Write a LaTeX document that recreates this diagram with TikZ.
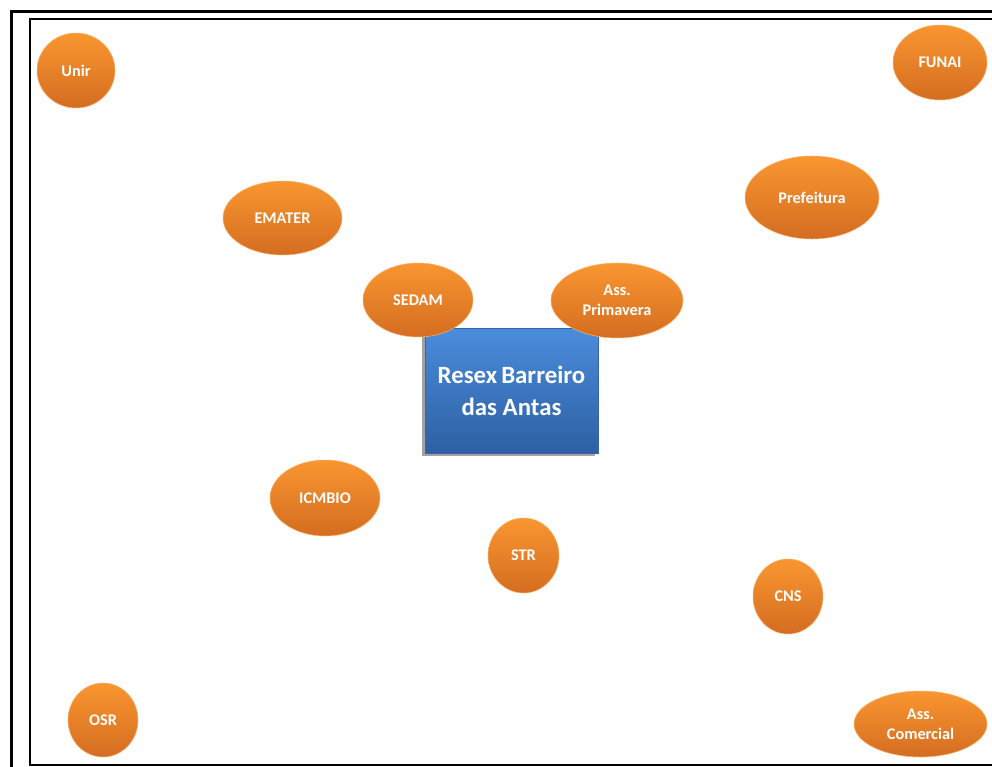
\documentclass[tikz,border=0pt]{standalone}
\usepackage{fontspec}
\setmainfont{Carlito}
\usetikzlibrary{shapes.geometric,shadows}
\definecolor{orgtop}{RGB}{249,150,48}
\definecolor{orgbot}{RGB}{212,109,33}
\definecolor{orgedge}{RGB}{250,178,110}
\definecolor{bluetop}{RGB}{74,140,220}
\definecolor{bluebot}{RGB}{46,96,162}
\definecolor{blueedge}{RGB}{58,100,170}
\tikzset{
  orb/.style 2 args={ellipse, minimum width=#1*0.75pt, minimum height=#2*0.75pt,
    inner sep=0pt, top color=orgtop, bottom color=orgbot, draw=orgedge, line width=0.4pt,
    text=white, font=\fontsize{12.2}{15}\selectfont\bfseries, align=center},
  center box/.style={rectangle, minimum width=173*0.75pt, minimum height=125*0.75pt,
    inner sep=0pt, top color=bluetop, bottom color=bluebot, draw=blueedge, line width=0.6pt,
    text=white, font=\fontsize{18.6}{23.75}\selectfont\bfseries, align=center,
    drop shadow={shadow xshift=-2.2pt, shadow yshift=-2.2pt, fill=black!45, opacity=0.8}},
  frameouter/.style={line width=2.25pt, black},
  frameinner/.style={line width=1.5pt, black}
}
\begin{document}
\begin{tikzpicture}[x=0.75pt, y=-0.75pt]
\useasboundingbox (0,0) rectangle (992,767);
% frame
\draw[frameouter] (11.5,767) -- (11.5,11.5) -- (992,11.5);
\draw[frameinner] (992,19.5) -- (29.5,19.5) -- (29.5,765) -- (992,765);
% central box
\node[center box] (resex) at (511.5,391) {Resex\,Barreiro\\das Antas};
% ellipses
\node[orb={78}{75}] (unir) at (76,70.5) {Unir};
\node[orb={94}{75}] (funai) at (940,62.5) {FUNAI};
\node[orb={119}{74}] (emater) at (282.5,218) {EMATER};
\node[orb={134}{83}] (prefeitura) at (812,197.5) {Prefeitura};
\node[orb={110}{74}] (sedam) at (418,300) {SEDAM};
\node[orb={132}{75}] (primavera) at (617,300.5) {Ass.\\Primavera};
\node[orb={110}{76}] (icmbio) at (325,498) {ICMBIO};
\node[orb={71}{75}] (str) at (523.5,555.5) {STR};
\node[orb={70}{75}] (cns) at (788,596.5) {CNS};
\node[orb={70}{74}] (osr) at (103,720) {OSR};
\node[orb={133}{66}] (comercial) at (920.5,724) {Ass.\\Comercial};
\end{tikzpicture}
\end{document}
